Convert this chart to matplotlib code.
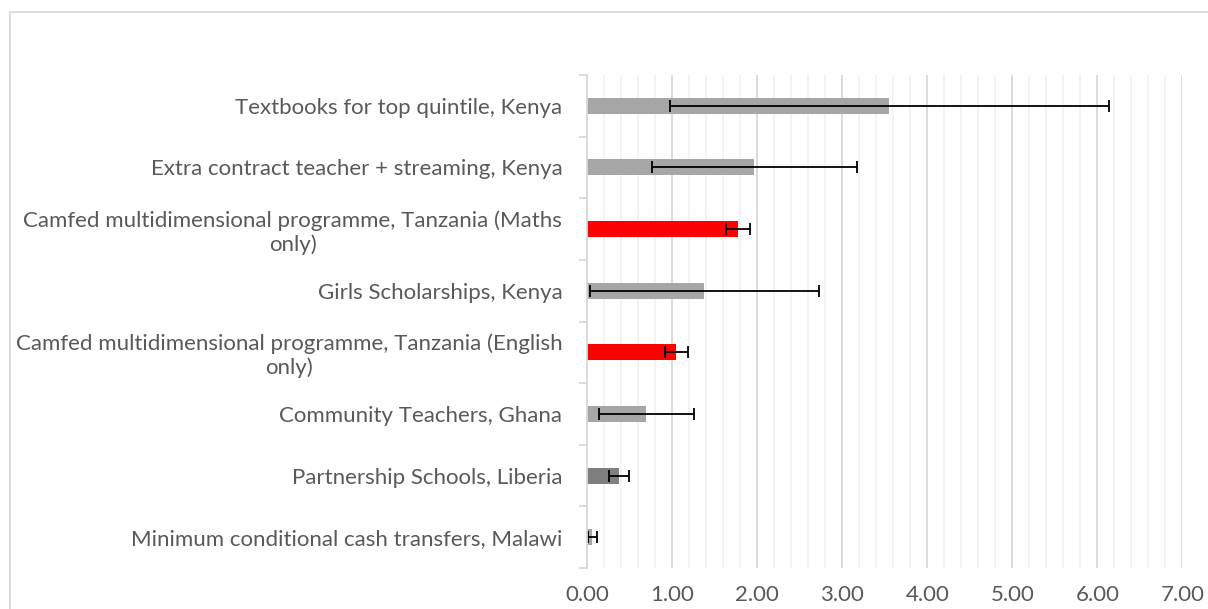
import matplotlib
matplotlib.use("Agg")
import matplotlib.pyplot as plt
from matplotlib.patches import Rectangle
from matplotlib.ticker import MultipleLocator, FixedLocator
import numpy as np

categories = [
    "Textbooks for top quintile, Kenya",
    "Extra contract teacher + streaming, Kenya",
    "Camfed multidimensional programme, Tanzania (Maths\nonly)",
    "Girls Scholarships, Kenya",
    "Camfed multidimensional programme, Tanzania (English\nonly)",
    "Community Teachers, Ghana",
    "Partnership Schools, Liberia",
    "Minimum conditional cash transfers, Malawi",
]
values = [3.55, 1.96, 1.77, 1.37, 1.04, 0.69, 0.37, 0.05]
err_low = [0.97, 0.76, 1.63, 0.03, 0.91, 0.14, 0.26, 0.01]
err_high = [6.14, 3.17, 1.91, 2.73, 1.18, 1.26, 0.49, 0.11]
bar_colors = ["#a6a6a6", "#a6a6a6", "#ff0000", "#a6a6a6", "#ff0000",
              "#a6a6a6", "#7f7f7f", "#a6a6a6"]
xticks = [0, 1, 2, 3, 4, 5, 6, 7]

plt.rcParams['font.family'] = ['Lato', 'DejaVu Sans']

fig = plt.figure(figsize=(12.08, 6.09), dpi=100)
W, H = 1208, 609
# outer chart border
fig.patches.append(Rectangle((10 / W, -0.1), 1.2, 1 - 12 / H + 0.1,
                             transform=fig.transFigure, fill=False,
                             edgecolor="#d9d9d9", linewidth=1.3))

ax = fig.add_axes([587.3 / W, 1 - 568 / H, (1182.3 - 587.3) / W, (568 - 75) / H])

n = len(categories)
y = np.arange(n)
ax.barh(y, values, height=0.26, color=bar_colors, zorder=3)
lo = np.array(values) - np.array(err_low)
hi = np.array(err_high) - np.array(values)
ax.errorbar(values, y, xerr=[lo, hi], fmt='none', ecolor='black',
            elinewidth=1.3, capsize=4.3, capthick=1.3, zorder=4)

ax.set_xlim(0, 7)
ax.set_ylim(n - 0.5, -0.5)

ax.xaxis.set_major_locator(FixedLocator(xticks))
ax.xaxis.set_minor_locator(MultipleLocator(0.2))
ax.set_xticklabels([f"{t:.2f}" for t in xticks])
ax.grid(axis='x', which='minor', color='#f2f2f2', linewidth=1.3, zorder=0)
ax.grid(axis='x', which='major', color='#d9d9d9', linewidth=1.3, zorder=1)

ax.set_yticks(y)
ax.set_yticklabels(categories, multialignment='center')
ax.yaxis.set_minor_locator(FixedLocator(np.arange(-0.5, n, 1.0)))

ax.tick_params(axis='x', which='both', length=0, pad=12, labelsize=16,
               labelcolor='#595959')
ax.tick_params(axis='y', which='major', length=0, pad=18, labelsize=16,
               labelcolor='#595959')
ax.tick_params(axis='y', which='minor', length=6, width=1.3, color='#d9d9d9')

for s in ['top', 'right', 'bottom']:
    ax.spines[s].set_visible(False)
ax.spines['left'].set_color('#d9d9d9')
ax.spines['left'].set_linewidth(1.3)
ax.spines['left'].set_zorder(5)

fig.savefig("out.png", dpi=100)
